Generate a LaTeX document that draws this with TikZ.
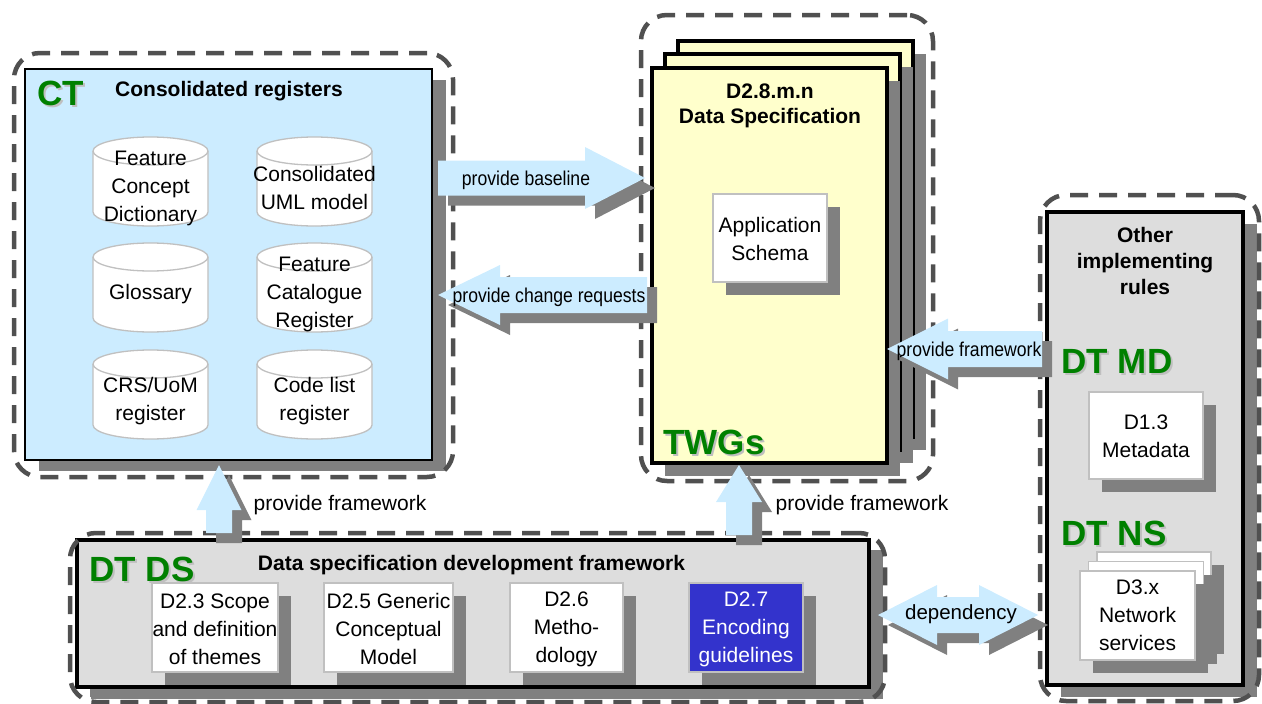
\documentclass[tikz,border=0pt]{standalone}
\usepackage{fontspec}
\setmainfont{Liberation Sans}
\usetikzlibrary{calc,shadows}
\definecolor{lblue}{HTML}{CCECFF}
\definecolor{lyellow}{HTML}{FFFFCC}
\definecolor{panelgray}{HTML}{DDDDDD}
\definecolor{shgray}{HTML}{808080}
\definecolor{framegray}{HTML}{505050}
\definecolor{dtgreen}{HTML}{008000}
\definecolor{encblue}{HTML}{3333CC}
\definecolor{boxborder}{HTML}{C0C0C0}
\tikzset{
 base/.style={anchor=north west, inner sep=0pt, outer sep=0pt},
 frame/.style={base, draw=framegray, line width=4.5pt, dash pattern=on 18pt off 11pt, rounded corners=26pt},
 ctbox/.style={base, fill=lblue, draw=black, line width=1.2pt, drop shadow={shadow xshift=14pt, shadow yshift=-11pt, fill=shgray, opacity=1}},
 page/.style={base, fill=lyellow, draw=black, line width=4pt, drop shadow={shadow xshift=13pt, shadow yshift=-13pt, fill=shgray, opacity=1}},
 panel/.style={base, fill=panelgray, draw=black, line width=4.5pt, drop shadow={shadow xshift=14pt, shadow yshift=-12pt, fill=shgray, opacity=1}},
 wbox/.style={base, fill=white, draw=boxborder, line width=1.5pt, drop shadow={shadow xshift=13pt, shadow yshift=-13pt, fill=shgray, opacity=1}},
 txt/.style={inner sep=0pt, align=center, font=\fontsize{21}{28}\selectfont},
 btxt/.style={inner sep=0pt, align=center, font=\bfseries\fontsize{21}{26}\selectfont},
 atxt/.style={inner sep=0pt, xscale=0.88, font=\fontsize{20}{22}\selectfont},
 glbl/.style={inner sep=0pt, font=\bfseries\fontsize{35}{35}\selectfont, text=dtgreen},
 glsh/.style={glbl, text=black!25},
}
% cylinder: name, centre x, top y, text
\newcommand\dbcyl[4]{%
 \filldraw[fill=white, draw=boxborder, line width=1.3pt] ({#2-57.5},{#3+14}) -- ({#2-57.5},{#3+75})
   arc[start angle=180, end angle=360, x radius=57.5pt, y radius=14pt] -- ({#2+57.5},{#3+14})
   arc[start angle=0, end angle=180, x radius=57.5pt, y radius=14pt] -- cycle;
 \draw[boxborder, line width=1.3pt] ({#2-57.5},{#3+14}) arc[start angle=180, end angle=360, x radius=57.5pt, y radius=14pt];
 \node[txt] (#1) at (#2,{#3+51}) {#4};}
% green label with light shadow: name, x, y, text
\newcommand\greenlabel[4]{%
 \node[glsh] at ({#2+2},{#3+2}) {#4};
 \node[glbl] (#1) at (#2,#3) {#4};}
% block arrow: tail, tip, shaft half width, head half width, head length, fill
\newcommand\blockarrow[6]{%
 \coordinate (hb) at ($(#2)!#5!(#1)$);
 \fill[#6] ($(#1)!#3!90:(#2)$) -- ($(hb)!#3!90:(#2)$) -- ($(hb)!#4!90:(#2)$) -- (#2)
   -- ($(hb)!#4!-90:(#2)$) -- ($(hb)!#3!-90:(#2)$) -- ($(#1)!#3!-90:(#2)$) -- cycle;}
\newcommand\shadowarrow[5]{%
 \coordinate (tS) at ($(#1)+(10,10)$);
 \coordinate (pS) at ($(#2)+(10,10)$);
 \blockarrow{tS}{pS}{#3}{#4}{#5}{shgray}
 \blockarrow{#1}{#2}{#3}{#4}{#5}{lblue}}
% double block arrow: tip A, tip B, shaft half, head half, head length, fill
\newcommand\dblarrow[6]{%
 \coordinate (hA) at ($(#1)!#5!(#2)$);
 \coordinate (hB) at ($(#2)!#5!(#1)$);
 \fill[#6] (#1) -- ($(hA)!#4!90:(#2)$) -- ($(hA)!#3!90:(#2)$) -- ($(hB)!#3!90:(#2)$) -- ($(hB)!#4!90:(#2)$)
   -- (#2) -- ($(hB)!#4!-90:(#2)$) -- ($(hB)!#3!-90:(#2)$) -- ($(hA)!#3!-90:(#2)$) -- ($(hA)!#4!-90:(#2)$) -- cycle;}
\begin{document}
\begin{tikzpicture}[x=1pt,y=-1pt]
\useasboundingbox (0,0) rectangle (1262,704);

% ---------- CT ----------
\node[ctbox, minimum width=407pt, minimum height=391pt] (ct) at (25,69) {};
\greenlabel{ctlbl}{61}{93}{CT}
\node[btxt] (cttitle) at (229,91) {Consolidated registers};
\dbcyl{fcd}{150.5}{137}{Feature\\Concept\\Dictionary}
\dbcyl{uml}{314.5}{137}{Consolidated\\UML model}
\dbcyl{glo}{150.5}{243}{Glossary}
\dbcyl{fcr}{314.5}{243}{Feature\\Catalogue\\Register}
\dbcyl{crs}{150.5}{350}{CRS/UoM\\register}
\dbcyl{cod}{314.5}{350}{Code list\\register}

% ---------- TWGs ----------
\node[page, minimum width=235pt, minimum height=396pt] (pageC) at (678,41) {};
\node[page, minimum width=235pt, minimum height=396pt] (pageB) at (665,54) {};
\node[page, minimum width=235pt, minimum height=395pt] (twg) at (652,68) {};
\node[btxt, font=\bfseries\fontsize{21}{25}\selectfont] (dstitle) at (770,106) {D2.8.m.n\\Data Specification};
\node[wbox, minimum width=114pt, minimum height=88pt] (app) at (713,194) {};
\node[txt] (appt) at ($(app.center)+(0,1)$) {Application\\Schema};
\greenlabel{twglbl}{714}{442}{TWGs}

% ---------- other implementing rules ----------
\node[panel, minimum width=196pt, minimum height=473pt] (ir) at (1047,212) {};
\node[btxt] (irtitle) at (1145,261) {Other\\implementing\\rules};
\greenlabel{mdlbl}{1117}{361}{DT MD}
\node[wbox, minimum width=114pt, minimum height=87pt] (d13) at (1089,392) {};
\node[txt] (d13t) at ($(d13.center)+(0,1)$) {D1.3\\Metadata};
\greenlabel{nslbl}{1114}{533}{DT NS}
\node[wbox, minimum width=114pt, minimum height=89pt] (d3c) at (1097,552) {};
\node[wbox, minimum width=115pt, minimum height=89pt] (d3b) at (1088.5,561.5) {};
\node[wbox, minimum width=115pt, minimum height=89pt] (d3) at (1080,571) {};
\node[txt] (d3t) at (d3.center) {D3.x\\Network\\services};

% ---------- DT DS ----------
\node[panel, minimum width=792pt, minimum height=147pt, drop shadow={shadow xshift=13pt, shadow yshift=-10pt, fill=shgray, opacity=1}] (ds) at (77,540) {};
\greenlabel{dslbl}{142}{569}{DT DS}
\node[btxt] (dsframe) at (471.5,565) {Data specification development framework};
\node[wbox, minimum width=126pt, minimum height=89pt] (d23) at (152,583) {};
\node[txt] (d23t) at ($(d23.center)+(0,1.5)$) {D2.3 Scope\\and definition\\of themes};
\node[wbox, minimum width=129pt, minimum height=89pt] (d25) at (324,583) {};
\node[txt] (d25t) at ($(d25.center)+(0,1.5)$) {D2.5 Generic\\Conceptual\\Model};
\node[wbox, minimum width=113pt, minimum height=89pt] (d26) at (510,583) {};
\node[txt] (d26t) at ($(d26.center)+(0,1.5)$) {D2.6\\Metho-\\dology};
\node[wbox, fill=encblue, minimum width=114pt, minimum height=89pt] (d27) at (689,583) {};
\node[txt, text=white] (d27t) at ($(d27.center)+(0,1.5)$) {D2.7\\Encoding\\guidelines};

% ---------- dashed frames ----------
\node[frame, minimum width=439pt, minimum height=424pt] (ctframe) at (14,53) {};
\node[frame, minimum width=292pt, minimum height=466pt] (twgframe) at (641,15) {};
\node[frame, minimum width=219pt, minimum height=506pt] (irframe) at (1040,195) {};
\node[frame, minimum width=815pt, minimum height=169pt] (dsframebox) at (70,533) {};

% ---------- arrows ----------
\coordinate (pbT) at (438,178);  \coordinate (pbH) at (645,178);
\shadowarrow{pbT}{pbH}{17.5pt}{31pt}{60pt}
\node[atxt] (pblbl) at (526,180) {provide baseline};

\coordinate (crT) at (647,295);  \coordinate (crH) at (438,295);
\shadowarrow{crT}{crH}{18pt}{30pt}{62pt}
\node[atxt] (crlbl) at (549,297) {provide change requests};

\coordinate (pfT) at (1042,349); \coordinate (pfH) at (887,349);
\shadowarrow{pfT}{pfH}{18pt}{30.5pt}{61pt}
\node[atxt] (pflbl) at (969,351) {provide framework};

\coordinate (u1T) at (219,533);  \coordinate (u1H) at (219,465);
\shadowarrow{u1T}{u1H}{13pt}{22.5pt}{45pt}
\node[txt] (u1lbl) at (340,505) {provide framework};

\coordinate (u2T) at (739,535);  \coordinate (u2H) at (739,465);
\shadowarrow{u2T}{u2H}{13pt}{23pt}{37pt}
\node[txt] (u2lbl) at (862,505) {provide framework};

\coordinate (dpA) at (878,615);  \coordinate (dpB) at (1038,615);
\coordinate (dpAs) at (888,625); \coordinate (dpBs) at (1048,625);
\dblarrow{dpAs}{dpBs}{18pt}{30pt}{59pt}{shgray}
\dblarrow{dpA}{dpB}{18pt}{30pt}{59pt}{lblue}
\node[txt, font=\fontsize{20.5}{24}\selectfont] (dplbl) at (961,614) {dependency};
\end{tikzpicture}
\end{document}
